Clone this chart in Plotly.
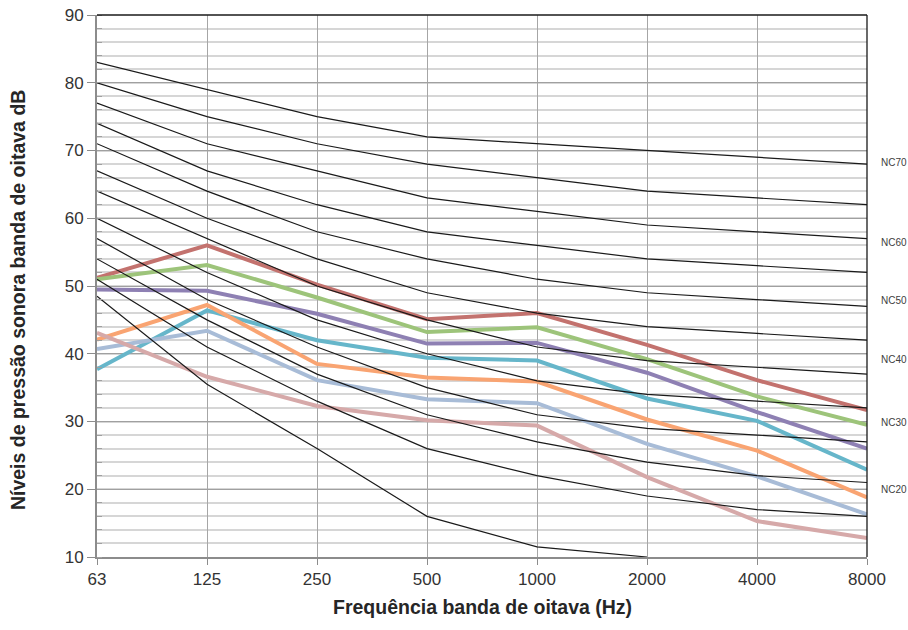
import plotly.graph_objects as go

freqs = ["63", "125", "250", "500", "1000", "2000", "4000", "8000"]

# NC reference curves (dB)
nc_names = ["NC70", "NC65", "NC60", "NC55", "NC50", "NC45", "NC40", "NC35", "NC30", "NC25", "NC20", "NC15"]
nc70 = [83, 79, 75, 72, 71, 70, 69, 68]
nc65 = [80, 75, 71, 68, 66, 64, 63, 62]
nc60 = [77, 71, 67, 63, 61, 59, 58, 57]
nc55 = [74, 67, 62, 58, 56, 54, 53, 52]
nc50 = [71, 64, 58, 54, 51, 49, 48, 47]
nc45 = [67, 60, 54, 49, 46, 44, 43, 42]
nc40 = [64, 57, 50, 45, 41, 39, 38, 37]
nc35 = [60, 52, 45, 40, 36, 34, 33, 32]
nc30 = [57, 48, 41, 35, 31, 29, 28, 27]
nc25 = [54, 45, 37, 31, 27, 24, 22, 21]
nc20 = [51, 41, 33, 26, 22, 19, 17, 16]
nc15 = [48.5, 35.5, 26, 16, 11.5, 10, None, None]
nc_curves = [nc70, nc65, nc60, nc55, nc50, nc45, nc40, nc35, nc30, nc25, nc20, nc15]

# Measured spectra
s_red = [51.2, 56.0, 50.2, 45.1, 46.0, 41.3, 36.1, 31.7]
s_green = [51.0, 53.1, 48.3, 43.2, 43.9, 39.2, 33.7, 29.5]
s_purple = [49.5, 49.3, 45.9, 41.5, 41.6, 37.2, 31.4, 26.0]
s_teal = [37.7, 46.4, 42.0, 39.4, 39.0, 33.4, 30.1, 22.9]
s_orange = [42.1, 47.2, 38.5, 36.5, 35.9, 30.3, 25.7, 18.8]
s_lblue = [40.7, 43.4, 36.1, 33.3, 32.7, 26.7, 21.9, 16.3]
s_pink = [43.1, 36.6, 32.3, 30.2, 29.4, 21.8, 15.3, 12.8]
series = [s_red, s_green, s_purple, s_teal, s_orange, s_lblue, s_pink]
series_colors = ["#C3726E", "#9DC47A", "#8E80B3", "#66B6CA", "#F9A472", "#A8BCD7", "#D6A9A9"]

# Right-side NC labels
label_texts = ["NC70", "NC60", "NC50", "NC40", "NC30", "NC20"]
label_y = [68.2, 56.4, 47.9, 39.1, 29.8, 19.9]

x_title = "Frequência banda de oitava (Hz)"
y_title = "Níveis de pressão sonora banda de oitava dB"

fig = go.Figure()

for vals, col in zip(series, series_colors):
    fig.add_trace(go.Scatter(x=freqs, y=vals, mode="lines",
                             line=dict(color=col, width=4), hoverinfo="skip",
                             showlegend=False))

for name, vals in zip(nc_names, nc_curves):
    fig.add_trace(go.Scatter(x=freqs, y=vals, mode="lines", name=name,
                             line=dict(color="#1a1a1a", width=1.2), hoverinfo="skip",
                             showlegend=False))

narrow = "Liberation Sans Narrow, Arial Narrow, Liberation Sans, Arial"
tick_font = dict(family=narrow, size=17, color="#333333")
title_font = dict(family="Liberation Sans, Arial", size=19.5, color="#262626")

fig.update_layout(
    width=908, height=630,
    margin=dict(l=97, r=41, t=15, b=73, autoexpand=False),
    paper_bgcolor="white", plot_bgcolor="white",
    showlegend=False,
    xaxis=dict(
        type="category", range=[0, 7], automargin=False,
        showgrid=True, gridcolor="#a6a6a6", gridwidth=1,
        showline=True, linecolor="#8c8c8c", linewidth=2,
        ticks="outside", ticklen=6, tickcolor="#8c8c8c",
        tickfont=tick_font, ticklabeloverflow="allow",
        zeroline=False,
    ),
    yaxis=dict(
        range=[10, 90], dtick=10, tick0=10, automargin=False,
        showgrid=True, gridcolor="#a0a0a0", gridwidth=1,
        showline=True, linecolor="#8c8c8c", linewidth=2,
        ticks="outside", ticklen=8, tickcolor="#8c8c8c",
        tickfont=tick_font, ticklabeloverflow="allow",
        minor=dict(dtick=2, showgrid=True, gridcolor="#d6d6d6", gridwidth=1.5,
                   ticks="inside", ticklen=5, tickcolor="#a0a0a0"),
        zeroline=False,
    ),
)

# top and right border of the plot area
fig.add_shape(type="line", xref="x domain", yref="y domain", x0=0, x1=1, y0=1, y1=1,
              line=dict(color="#1a1a1a", width=1.3))
fig.add_shape(type="line", xref="x domain", yref="y domain", x0=1, x1=1, y0=0, y1=1,
              line=dict(color="#1a1a1a", width=1.3))

# axis titles
fig.add_annotation(x=0.5, xref="paper", y=-0.0923, yref="paper", text="<b>" + x_title + "</b>",
                   showarrow=False, font=title_font, xanchor="center", yanchor="middle")
fig.add_annotation(x=-0.1026, xref="paper", y=0.474, yref="paper", text="<b>" + y_title + "</b>",
                   showarrow=False, font=title_font, textangle=-90, xanchor="center", yanchor="middle")

for t, yv in zip(label_texts, label_y):
    fig.add_annotation(x=1.0, xref="paper", y=yv, yref="y", text=t, showarrow=False,
                       xanchor="left", xshift=12,
                       font=dict(family=narrow, size=10, color="#404040"))

fig.write_html("out.html", config={"displayModeBar": False},
               post_script="document.body.style.margin='0px';document.body.style.overflow='hidden';")
